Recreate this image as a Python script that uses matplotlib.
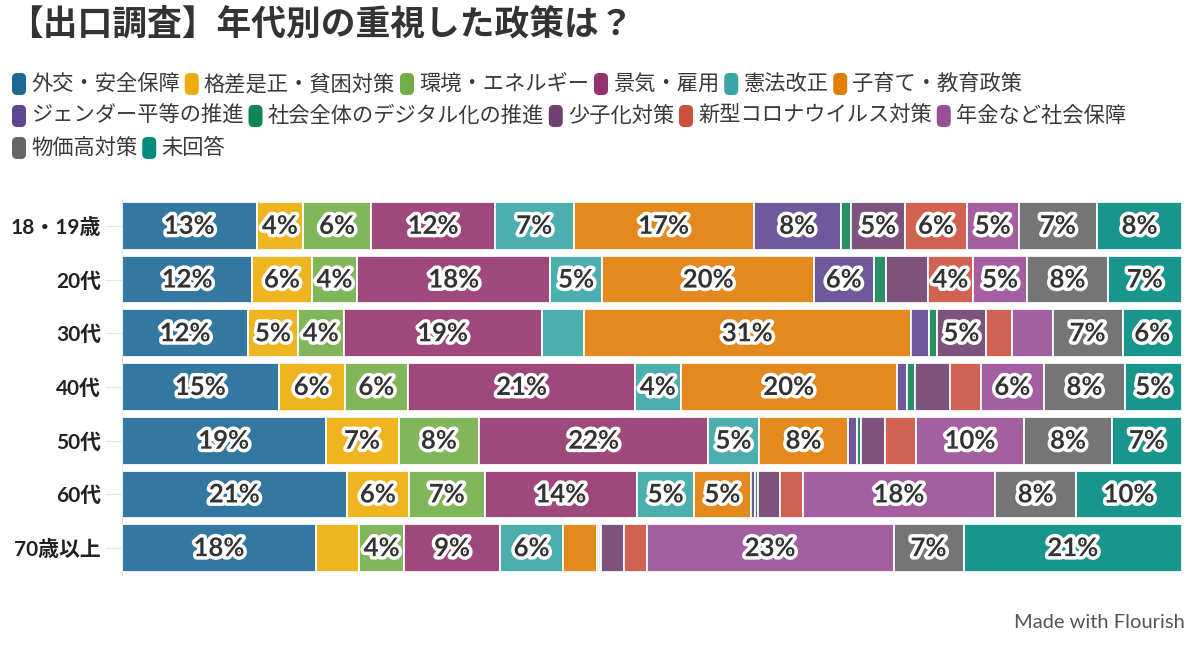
import matplotlib
matplotlib.use("Agg")
import matplotlib.pyplot as plt
import matplotlib.patheffects as pe
from matplotlib.patches import FancyBboxPatch
from matplotlib.transforms import IdentityTransform

W, H = 1200, 648

age_groups = ["18・19歳", "20代", "30代", "40代", "50代", "60代", "70歳以上"]

policies = [
    "外交・安全保障", "格差是正・貧困対策", "環境・エネルギー", "景気・雇用",
    "憲法改正", "子育て・教育政策", "ジェンダー平等の推進",
    "社会全体のデジタル化の推進", "少子化対策", "新型コロナウイルス対策",
    "年金など社会保障", "物価高対策", "未回答",
]

colors = [
    "#1D6996", "#EDAD08", "#73AF48", "#94346E", "#38A6A5", "#E17C05",
    "#5F4690", "#0F8554", "#6F4070", "#CC503E", "#994E95", "#666666",
    "#008B80",
]

# share (%) per policy, ordered like age_groups
foreign = [12.7, 12.3, 11.9, 14.8, 19.2, 21.2, 18.3]
inequality = [4.4, 5.6, 4.7, 6.2, 6.9, 5.9, 4.1]
environment = [6.4, 4.3, 4.3, 6.0, 7.6, 7.1, 4.2]
economy = [11.7, 18.2, 18.7, 21.4, 21.6, 14.4, 9.1]
constitution = [7.4, 4.9, 4.0, 4.3, 4.8, 5.4, 5.9]
childcare = [17.0, 20.0, 30.8, 20.4, 8.4, 5.3, 3.2]
gender = [8.2, 5.6, 1.7, 1.0, 0.8, 0.4, 0.2]
digital = [1.0, 1.2, 0.8, 0.7, 0.4, 0.3, 0.2]
birthrate = [5.1, 3.9, 4.6, 3.3, 2.3, 2.1, 2.2]
corona = [5.8, 4.3, 2.5, 2.9, 2.9, 2.1, 2.1]
pension = [4.9, 5.1, 3.8, 6.0, 10.2, 18.2, 23.3]
prices = [7.4, 7.6, 6.6, 7.6, 8.3, 7.6, 6.6]
no_answer = [8.0, 7.0, 5.6, 5.4, 6.6, 10.0, 20.6]

series = [foreign, inequality, environment, economy, constitution, childcare,
          gender, digital, birthrate, corona, pension, prices, no_answer]

JP = ["Noto Sans CJK JP", "DejaVu Sans"]
NUM = ["Lato", "Noto Sans CJK JP"]
TEXT = "#333333"


def px(x, y):
    """Pixel position from the top-left corner to display coords."""
    return x, H - y


def draw_legend(fig, renderer, x0=12, y0=84, max_x=1192, row_h=32):
    x, y = x0, y0
    for name, col in zip(policies, colors):
        t = fig.text(0, 0, name, fontsize=15.3, family=JP, color="#3a3a3a",
                     va="center", ha="left", transform=IdentityTransform())
        tw = t.get_window_extent(renderer).width
        if x + 20 + tw > max_x:
            x, y = x0, y + row_h
        sx, sy = px(x, y + 11)
        fig.add_artist(FancyBboxPatch(
            (sx, sy), 14, 22, boxstyle="round,pad=0,rounding_size=5",
            facecolor=col, edgecolor="none", transform=IdentityTransform()))
        t.set_position(px(x + 19, y))
        x += 19 + tw + 5


def main():
    fig = plt.figure(figsize=(W / 100, H / 100), dpi=100)
    renderer = fig.canvas.get_renderer()

    ax = fig.add_axes([122 / W, 1 - 575 / H, 1060 / W, 376 / H])
    ypos = list(range(len(age_groups)))
    left = [0.0] * len(age_groups)
    for vals, col in zip(series, colors):
        ax.barh(ypos, vals, left=left, height=0.89, color=col, alpha=0.9,
                edgecolor="white", linewidth=1.4, zorder=2)
        for i, v in enumerate(vals):
            if v >= 4.15:
                ax.text(left[i] + v / 2, i, f"{round(v)}%", ha="center",
                        va="center", fontsize=18.5, fontweight="bold",
                        family=NUM, color=TEXT, zorder=3,
                        path_effects=[pe.withStroke(linewidth=5,
                                                    foreground="white")])
        left = [a + b for a, b in zip(left, vals)]

    ax.set_xlim(0, 100)
    ax.set_ylim(len(age_groups) - 0.5, -0.5)
    ax.set_yticks(ypos)
    ax.set_yticklabels(age_groups, fontsize=15, fontweight="bold",
                       family=NUM, color="#222222")
    ax.tick_params(axis="y", length=12, color="#e6e6e6", pad=3)
    ax.set_xticks([])
    for s in ["top", "right", "bottom"]:
        ax.spines[s].set_visible(False)
    ax.spines["left"].set_color("#e6e6e6")

    fig.text(*px(8, 24), "【出口調査】年代別の重視した政策は？", fontsize=25,
             fontweight="bold", family=JP, color=TEXT, va="center",
             ha="left", transform=IdentityTransform())

    draw_legend(fig, renderer)

    fig.text(*px(1185, 623), "Made with Flourish", fontsize=14.5,
             family=NUM, color="#555555", ha="right", va="center",
             transform=IdentityTransform())

    fig.savefig("out.png", dpi=100, facecolor="white")


if __name__ == "__main__":
    main()
